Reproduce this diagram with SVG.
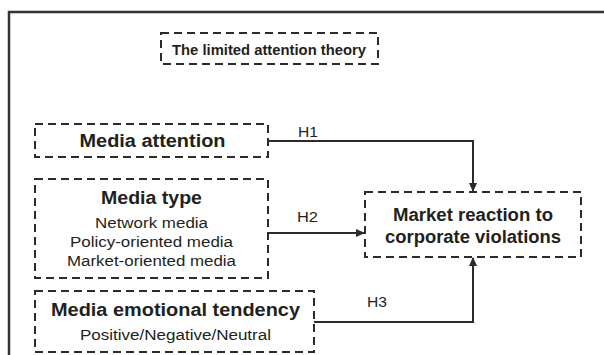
<svg xmlns="http://www.w3.org/2000/svg" width="604" height="355" viewBox="0 0 604 355">
<defs>
<style>
.box{fill:none;stroke:#2b2b2b;stroke-width:2;stroke-dasharray:8,5}
.b{font-family:"Liberation Sans",Arial,sans-serif;font-weight:bold;fill:#231f20;text-anchor:middle;font-size:18px}
.r{font-family:"Liberation Sans",Arial,sans-serif;fill:#231f20;text-anchor:middle;font-size:15.5px}
.lab{font-family:"Liberation Sans",Arial,sans-serif;fill:#231f20;font-size:15px}
.con{fill:none;stroke:#2b2b2b;stroke-width:2}
</style>
<marker id="arr" markerWidth="9" markerHeight="8" refX="8" refY="4" orient="auto" markerUnits="userSpaceOnUse">
<path d="M0,0 L9,4 L0,8 Z" fill="#2b2b2b"/>
</marker>
</defs>
<rect x="0" y="0" width="604" height="355" fill="#fff"/>
<rect x="9" y="12" width="600" height="350" fill="none" stroke="#333" stroke-width="2.5"/>
<g id="theory">
<rect class="box" x="161" y="33" width="217" height="31"/>
<text class="b" x="269" y="55" style="font-size:15px" textLength="194" lengthAdjust="spacingAndGlyphs">The limited attention theory</text>
</g>
<g id="attention">
<rect class="box" x="35" y="124" width="233" height="33"/>
<text class="b" x="152.5" y="147" textLength="146" lengthAdjust="spacingAndGlyphs">Media attention</text>
</g>
<g id="type">
<rect class="box" x="35" y="179" width="233" height="99"/>
<text class="b" x="151.5" y="204" textLength="101" lengthAdjust="spacingAndGlyphs">Media type</text>
<text class="r" x="151.5" y="228" textLength="113" lengthAdjust="spacingAndGlyphs">Network media</text>
<text class="r" x="151.5" y="247" textLength="163" lengthAdjust="spacingAndGlyphs">Policy-oriented media</text>
<text class="r" x="151.5" y="266" textLength="169" lengthAdjust="spacingAndGlyphs">Market-oriented media</text>
</g>
<g id="emotion">
<rect class="box" x="35" y="291" width="279" height="61"/>
<text class="b" x="175.5" y="316" textLength="249" lengthAdjust="spacingAndGlyphs">Media emotional tendency</text>
<text class="r" x="175.5" y="340" textLength="191" lengthAdjust="spacingAndGlyphs">Positive/Negative/Neutral</text>
</g>
<g id="market">
<rect class="box" x="365" y="192" width="216" height="65"/>
<text class="b" x="473" y="221" textLength="160" lengthAdjust="spacingAndGlyphs">Market reaction to</text>
<text class="b" x="473" y="243" textLength="176" lengthAdjust="spacingAndGlyphs">corporate violations</text>
</g>
<g id="connectors">
<path class="con" d="M268,141 H473 V191" marker-end="url(#arr)"/>
<path class="con" d="M268,233 H364" marker-end="url(#arr)"/>
<path class="con" d="M314,322 H473 V258" marker-end="url(#arr)"/>
<text class="lab" x="298" y="137" textLength="20" lengthAdjust="spacingAndGlyphs">H1</text>
<text class="lab" x="297" y="222" textLength="21" lengthAdjust="spacingAndGlyphs">H2</text>
<text class="lab" x="367" y="307" textLength="20" lengthAdjust="spacingAndGlyphs">H3</text>
</g>
</svg>
